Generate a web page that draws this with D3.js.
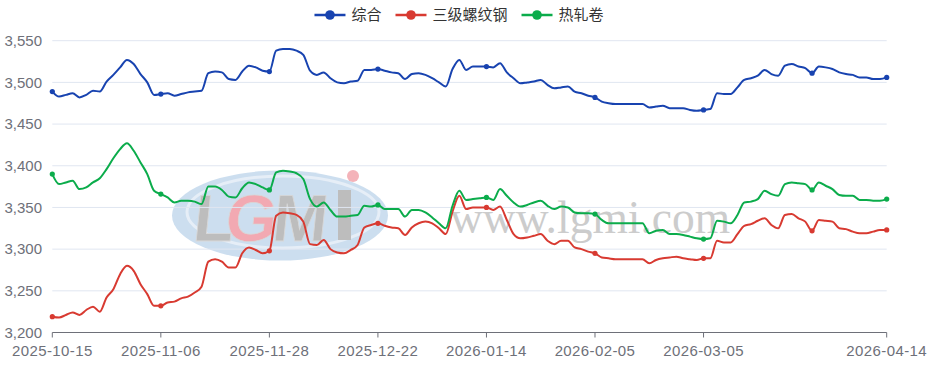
<!DOCTYPE html>
<html><head><meta charset="utf-8">
<script src="https://cdn.jsdelivr.net/npm/d3@7"></script>
<style>
html,body{margin:0;padding:0;background:#fff;}
svg{display:block;}
</style></head>
<body>
<svg id="chart" width="940" height="369"></svg>
<script>
const dates = [
"2025-10-15","2025-10-16","2025-10-17","2025-10-20","2025-10-21","2025-10-22","2025-10-23","2025-10-24","2025-10-27","2025-10-28","2025-10-29","2025-10-30","2025-10-31",
"2025-11-03","2025-11-04","2025-11-05","2025-11-06",
"2025-11-07","2025-11-10","2025-11-11","2025-11-12","2025-11-13","2025-11-14","2025-11-17","2025-11-18","2025-11-19","2025-11-20","2025-11-21","2025-11-24","2025-11-25","2025-11-26","2025-11-27","2025-11-28",
"2025-12-01","2025-12-02","2025-12-03","2025-12-04","2025-12-05","2025-12-08","2025-12-09","2025-12-10","2025-12-11","2025-12-12","2025-12-15","2025-12-16","2025-12-17","2025-12-18","2025-12-19","2025-12-22",
"2025-12-23","2025-12-24","2025-12-25","2025-12-26","2025-12-29","2025-12-30","2025-12-31","2026-01-04","2026-01-05","2026-01-06","2026-01-07","2026-01-08","2026-01-09","2026-01-12","2026-01-13","2026-01-14",
"2026-01-15","2026-01-16","2026-01-19","2026-01-20","2026-01-21","2026-01-22","2026-01-23","2026-01-26","2026-01-27","2026-01-28","2026-01-29","2026-01-30","2026-02-02","2026-02-03","2026-02-04","2026-02-05",
"2026-02-06","2026-02-09","2026-02-10","2026-02-11","2026-02-12","2026-02-13","2026-02-14","2026-02-24","2026-02-25","2026-02-26","2026-02-27","2026-02-28","2026-03-02","2026-03-03","2026-03-04","2026-03-05",
"2026-03-06","2026-03-09","2026-03-10","2026-03-11","2026-03-12","2026-03-13","2026-03-16","2026-03-17","2026-03-18","2026-03-19","2026-03-20","2026-03-23","2026-03-24","2026-03-25","2026-03-26","2026-03-27","2026-03-30","2026-03-31","2026-04-01","2026-04-02","2026-04-03","2026-04-07","2026-04-08","2026-04-09","2026-04-10","2026-04-13","2026-04-14"
];

const composite = [
3489,3483,3485,3487,3482,3485,3490,3489,3501,3509,3518,3527,3522,3510,3500,3485,3486,
3487,3484,3486,3488,3489,3490,3511,3513,3512,3504,3503,3513,3520,3518,3514,3513,
3538,3540,3540,3538,3533,3514,3509,3512,3505,3500,3499,3501,3502,3515,3515,3516,
3514,3512,3511,3504,3510,3511,3509,3505,3500,3495,3516,3527,3515,3519,3519,3519,
3518,3523,3512,3505,3499,3500,3501,3503,3497,3493,3494,3495,3489,3487,3484,3482,
3477,3475,3474,3474,3474,3474,3474,3470,3471,3472,3469,3469,3469,3467,3466,3467,
3468,3487,3486,3486,3494,3503,3505,3508,3515,3510,3508,3520,3522,3519,3517,3511,3519,3518,3516,3512,3510,3509,3506,3506,3504,3504,3506
];
const rebar = [
3219,3218,3221,3224,3221,3227,3231,3225,3242,3252,3270,3280,3274,3258,3246,3232,3232,
3236,3237,3241,3243,3248,3255,3285,3288,3285,3278,3278,3295,3302,3299,3295,3298,
3340,3344,3343,3341,3333,3306,3305,3311,3300,3296,3295,3299,3305,3326,3329,3331,
3328,3326,3325,3317,3326,3331,3333,3331,3325,3318,3345,3364,3348,3350,3350,3350,
3347,3351,3335,3318,3313,3314,3316,3318,3310,3306,3310,3310,3302,3300,3297,3295,
3290,3289,3288,3288,3288,3288,3288,3283,3287,3289,3290,3291,3289,3288,3287,3289,
3289,3310,3308,3308,3318,3328,3330,3334,3337,3329,3325,3341,3342,3337,3333,3322,3335,3334,3333,3325,3324,3321,3319,3319,3321,3323,3323
];
const hotRolled = [
3390,3378,3380,3382,3372,3374,3380,3385,3396,3409,3420,3427,3418,3404,3390,3370,3366,
3362,3356,3358,3358,3357,3354,3375,3375,3371,3363,3362,3373,3380,3378,3374,3371,
3392,3394,3393,3391,3384,3360,3351,3356,3347,3339,3339,3340,3341,3352,3351,3353,
3348,3348,3348,3339,3347,3347,3344,3338,3331,3325,3352,3370,3359,3360,3361,3362,
3359,3372,3364,3356,3351,3353,3356,3358,3352,3348,3351,3350,3344,3343,3343,3342,
3335,3331,3331,3331,3331,3331,3331,3319,3322,3323,3318,3318,3317,3315,3313,3312,
3313,3334,3333,3331,3341,3356,3357,3360,3370,3366,3364,3378,3380,3379,3378,3371,3380,3376,3372,3365,3364,3364,3359,3359,3358,3358,3360
];

const seriesNames = ["综合","三级螺纹钢","热轧卷"];
const seriesColors = ["#1843b0","#d83a31","#0bac4b"];
const xTickLabels = ["2025-10-15","2025-11-06","2025-11-28","2025-12-22","2026-01-14","2026-02-05","2026-03-05","2026-04-14"];
const yTicks = [3200,3250,3300,3350,3400,3450,3500,3550];

(function(){
const svg = d3.select("#chart");
const pLeft = 52.3, pRight = 886.7, pTop = 40.7, pBottom = 332.5;
const x = d3.scalePoint().domain(dates).range([pLeft, pRight]);
const y = d3.scaleLinear().domain([3200, 3550]).range([pBottom, pTop]);
const numFont = "'Liberation Sans', Arial, sans-serif";
const axisColor = "#6e7079";

// watermark
const wm = svg.append("g").attr("class","watermark");
wm.append("ellipse").attr("cx",280).attr("cy",215.5).attr("rx",108).attr("ry",45)
  .attr("fill","#c9dcee").attr("opacity",0.95);
wm.append("ellipse").attr("cx",283).attr("cy",212).attr("rx",96).attr("ry",36)
  .attr("fill","none").attr("stroke","#e6eef7").attr("stroke-width",3);
const wmFont = "'Liberation Sans', Arial, sans-serif";
[["L",193,"#bdbdbd"],["G",225,"#f2a9b2"],["M",272,"#bdbdbd"]].forEach(([t,xx,c])=>{
  wm.append("text").attr("x",xx).attr("y",241).attr("font-family",wmFont)
    .attr("font-weight","bold").attr("font-size",66).attr("fill",c)
    .attr("stroke","#d8d8d8").attr("stroke-width",0.8)
    .attr("transform","translate(24,0) skewX(-6)").text(t);
});
wm.append("rect").attr("x",338).attr("y",190).attr("width",13).attr("height",50).attr("fill","#bdbdbd");
wm.append("circle").attr("cx",353).attr("cy",176).attr("r",6).attr("fill","#f4b3b9");
wm.append("text").attr("x",450).attr("y",233).attr("font-family","'Liberation Serif', 'Times New Roman', serif")
  .attr("font-size",45.5).attr("fill","#cccccc").text("www.lgmi.com");

// grid
svg.append("g").selectAll("line").data(yTicks.filter(d=>d!==3200)).join("line")
  .attr("x1",pLeft).attr("x2",pRight).attr("y1",d=>y(d)).attr("y2",d=>y(d))
  .attr("stroke","#e0e6f1").attr("stroke-width",1);

// y labels
svg.append("g").selectAll("text").data(yTicks).join("text")
  .attr("x",42).attr("y",d=>y(d)).attr("dy","0.35em").attr("text-anchor","end")
  .attr("font-family",numFont).attr("font-size",15).attr("fill",axisColor)
  .text(d=>d3.format(",")(d));

// x axis
svg.append("line").attr("x1",pLeft).attr("x2",pRight).attr("y1",pBottom).attr("y2",pBottom)
  .attr("stroke",axisColor).attr("stroke-width",1);
const xa = svg.append("g");
xa.selectAll("line").data(xTickLabels).join("line")
  .attr("x1",d=>x(d)).attr("x2",d=>x(d)).attr("y1",pBottom).attr("y2",pBottom+5)
  .attr("stroke",axisColor).attr("stroke-width",1);
xa.selectAll("text").data(xTickLabels).join("text")
  .attr("x",d=>x(d)).attr("y",350.5).attr("dy","0.35em").attr("text-anchor","middle")
  .attr("font-family",numFont).attr("font-size",15).attr("letter-spacing","0.4px")
  .attr("fill",axisColor).text(d=>d);

// lines
const allSeries = [composite, rebar, hotRolled];
const line = d3.line().x((d,i)=>x(dates[i])).y(d=>y(d)).curve(d3.curveMonotoneX);
allSeries.forEach((s,k)=>{
  svg.append("path").datum(s).attr("d",line).attr("fill","none")
    .attr("stroke",seriesColors[k]).attr("stroke-width",2).attr("stroke-linejoin","round");
});
allSeries.forEach((s,k)=>{
  const pts = s.map((v,i)=>({v,i})).filter(p=>p.i%16===0 || p.i===s.length-1);
  svg.append("g").selectAll("circle").data(pts).join("circle")
    .attr("cx",p=>x(dates[p.i])).attr("cy",p=>y(p.v)).attr("r",2.6).attr("fill",seriesColors[k]);
});

// legend
const lg = svg.append("g");
const legFont = "'Noto Sans CJK SC', sans-serif";
const widths = [];
const tmp = lg.selectAll("text.tmp").data(seriesNames).join("text").attr("font-family",legFont).attr("font-size",15).text(d=>d);
tmp.each(function(){widths.push(this.getComputedTextLength());});
tmp.remove();
const iconW = 31, gapT = 6, itemGap = 14;
const total = d3.sum(widths) + seriesNames.length*(iconW+gapT) + (seriesNames.length-1)*itemGap;
let cx0 = 459 - total/2;
seriesNames.forEach((n,k)=>{
  const g = lg.append("g").attr("transform",`translate(${cx0},15)`);
  g.append("line").attr("x1",0).attr("x2",iconW).attr("y1",0).attr("y2",0).attr("stroke",seriesColors[k]).attr("stroke-width",2.5);
  g.append("circle").attr("cx",iconW/2).attr("cy",0).attr("r",4.8).attr("fill",seriesColors[k]);
  g.append("text").attr("x",iconW+gapT).attr("y",0).attr("dy","0.35em").attr("font-family",legFont)
    .attr("font-size",15).attr("fill","#333").text(n);
  cx0 += iconW + gapT + widths[k] + itemGap;
});
})();
</script>
</body></html>
